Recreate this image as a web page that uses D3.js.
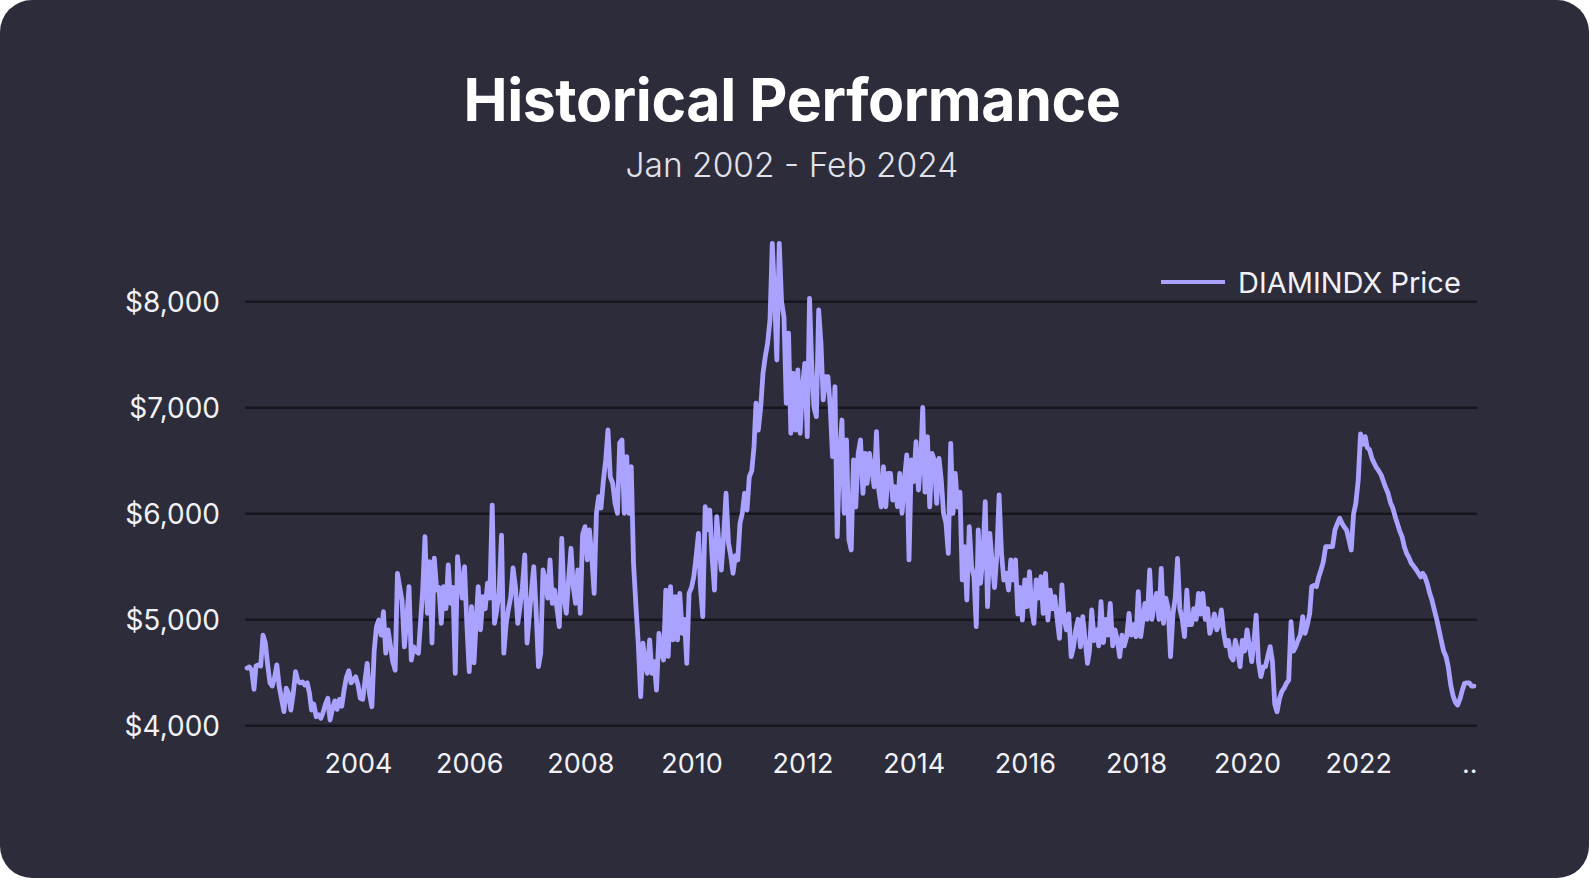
<!DOCTYPE html>
<html>
<head>
<meta charset="utf-8">
<script src="https://cdn.jsdelivr.net/npm/d3@7"></script>
<style>
  html, body { margin: 0; padding: 0; background: #ffffff; }
  svg { display: block; }
</style>
</head>
<body>
<div id="chart"></div>
<script>
/* DIAMINDX price: two readings a month (1st and 16th) */
var p2002 = [4540, 4550, 4520, 4340, 4560, 4570, 4560, 4850, 4780, 4580, 4400, 4370, 4450, 4570, 4364, 4250, 4130, 4350, 4300, 4144, 4300, 4506, 4420, 4400]
var p2003 = [4410, 4380, 4400, 4300, 4144, 4200, 4081, 4100, 4066, 4120, 4200, 4255, 4050, 4150, 4230, 4150, 4245, 4180, 4330, 4450, 4515, 4400, 4427, 4458]
var p2004 = [4380, 4255, 4245, 4427, 4585, 4300, 4175, 4700, 4930, 4993, 4850, 5072, 4680, 4900, 4750, 4600, 4520, 5434, 5300, 5180, 4740, 5000, 5308, 4616]
var p2005 = [4740, 4700, 4680, 5000, 5276, 5780, 5057, 5543, 4776, 5578, 5276, 5300, 4962, 5308, 5100, 5513, 5150, 5300, 4490, 5590, 5371, 5200, 5497, 4962]
var p2006 = [4506, 5119, 4590, 5000, 5308, 4900, 5213, 5100, 5340, 5200, 6078, 4962, 5088, 5250, 5795, 4680, 4962, 5100, 5213, 5484, 5300, 4962, 5119, 5300]
var p2007 = [5607, 4776, 5057, 5300, 5497, 5100, 4553, 4680, 5465, 5371, 5200, 5560, 5150, 5276, 5100, 4930, 5764, 5200, 5057, 5371, 5670, 5300, 5150, 5465]
var p2008 = [5057, 5800, 5874, 5560, 5843, 5600, 5245, 6000, 6157, 6050, 6314, 6503, 6786, 6345, 6283, 6100, 6000, 6663, 6692, 6000, 6534, 6000, 6440, 5528]
var p2009 = [5119, 4774, 4270, 4774, 4600, 4490, 4805, 4490, 4600, 4333, 4868, 4700, 4616, 5276, 4650, 5308, 4805, 5213, 4805, 5245, 4868, 5000, 4585, 5245]
var p2010 = [5300, 5402, 5600, 5811, 5300, 5025, 6062, 5843, 6031, 5600, 5276, 5968, 5700, 5465, 5800, 6189, 5720, 5600, 5434, 5600, 5560, 5906, 6000, 6189]
var p2011 = [6031, 6345, 6400, 6628, 7038, 6784, 7000, 7321, 7478, 7600, 7824, 8547, 8050, 7446, 8547, 8000, 7850, 7038, 7700, 6755, 7321, 6784, 7352, 6755]
var p2012 = [7200, 7415, 6723, 8028, 7415, 7000, 6912, 7918, 7604, 7070, 7290, 7290, 7007, 6534, 7195, 5780, 6566, 6880, 6000, 6692, 5750, 5654, 6503, 6060]
var p2013 = [6566, 6692, 6189, 6566, 6283, 6566, 6400, 6250, 6770, 6220, 6060, 6440, 6062, 6377, 6377, 6125, 6250, 6062, 6377, 6000, 6314, 6550, 5560, 6503]
var p2014 = [6300, 6676, 6220, 6500, 7000, 6200, 6723, 6060, 6566, 6503, 6094, 6519, 6314, 6000, 5906, 5622, 6660, 6000, 6377, 6060, 6200, 5371, 5686, 5182]
var p2015 = [5874, 5500, 5400, 4930, 5843, 5340, 5600, 6110, 5119, 5811, 5528, 5300, 5600, 6173, 5622, 5371, 5434, 5276, 5560, 5371, 5560, 5050, 5300, 4993]
var p2016 = [5371, 5119, 5450, 5088, 4962, 5371, 5200, 5402, 5057, 5434, 4993, 5276, 5100, 5214, 5000, 4820, 5324, 5000, 4900, 5050, 4647, 4740, 4900, 5000]
var p2017 = [4740, 5025, 4800, 4585, 4700, 5088, 4800, 4900, 4750, 5166, 4780, 5000, 4850, 5150, 4750, 4900, 4800, 4647, 4850, 4750, 4836, 5056, 4850, 4950]
var p2018 = [4836, 5261, 4836, 5000, 5150, 5000, 5465, 5000, 5150, 5244, 5000, 5481, 4962, 5200, 5100, 4647, 5050, 5200, 5575, 5100, 5000, 4836, 5276, 4950]
var p2019 = [4950, 5100, 5000, 5244, 5050, 5244, 5000, 5100, 4868, 4950, 5050, 4900, 4950, 5089, 4868, 4750, 4800, 4650, 4616, 4800, 4700, 4553, 4800, 4700]
var p2020 = [4900, 4750, 4600, 4800, 5040, 4600, 4459, 4550, 4553, 4650, 4742, 4600, 4200, 4128, 4250, 4317, 4350, 4396, 4427, 4977, 4700, 4742, 4800, 4850]
var p2021 = [5025, 4868, 4950, 5056, 5308, 5320, 5308, 5400, 5465, 5540, 5685, 5685, 5685, 5685, 5843, 5900, 5953, 5906, 5870, 5843, 5750, 5654, 5990, 6094]
var p2022 = [6314, 6750, 6650, 6723, 6620, 6600, 6520, 6472, 6430, 6400, 6360, 6300, 6240, 6189, 6100, 6050, 5968, 5900, 5830, 5780, 5680, 5620, 5580, 5528]
var p2023 = [5500, 5470, 5434, 5400, 5434, 5400, 5330, 5245, 5180, 5088, 5000, 4900, 4800, 4700, 4650, 4550, 4380, 4280, 4220, 4190, 4250, 4330, 4396, 4400]
var p2024 = [4400, 4370, 4370]

var years = [2002, 2003, 2004, 2005, 2006, 2007, 2008, 2009, 2010, 2011, 2012, 2013,
             2014, 2015, 2016, 2017, 2018, 2019, 2020, 2021, 2022, 2023, 2024]
var priceRows = [p2002, p2003, p2004, p2005, p2006, p2007, p2008, p2009, p2010, p2011, p2012, p2013,
                 p2014, p2015, p2016, p2017, p2018, p2019, p2020, p2021, p2022, p2023, p2024]

var yTicks = [4000, 5000, 6000, 7000, 8000]
var xTickYears = [2004, 2006, 2008, 2010, 2012, 2014, 2016, 2018, 2020, 2022, 2024]
var xTickLabels = ["2004", "2006", "2008", "2010", "2012", "2014", "2016", "2018", "2020", "2022", ".."]

var titleText = "Historical Performance"
var subtitleText = "Jan 2002 - Feb 2024"
var seriesName = "DIAMINDX Price"

/* colors + layout */
var colors = {
  page: "#ffffff",
  card: "#2d2c3a",
  grid: "#17161f",
  line: "#a9a2ff",
  text: "#f1f1f6",
  subText: "#e2e2ea"
}

var width = 1590
    height = 880
    plotLeft = 245
    plotRight = 1477
    fontFamily = "Inter, 'Noto Sans', sans-serif"

/* flatten the yearly rows into dated points */
var priceData = []
priceRows.forEach(function(row, i) {
  row.forEach(function(v, k) {
    priceData.push({
      date: new Date(years[i], Math.floor(k / 2), k % 2 ? 16 : 1),
      value: v
    })
  })
})

var x = d3.scaleTime()
    .domain([new Date(2002, 0, 1), new Date(2024, 1, 1)])
    .range([247, 1474])

var y = d3.scaleLinear()
    .domain([4000, 8000])
    .range([725.3, 301.3])

var svg = d3.select("#chart")
    .append("svg")
    .attr("width", width)
    .attr("height", height)

svg.append("rect")
    .attr("width", width)
    .attr("height", height)
    .attr("fill", colors.page)

svg.append("rect")
    .attr("width", 1589)
    .attr("height", 878)
    .attr("rx", 32)
    .attr("ry", 32)
    .attr("fill", colors.card)

/* horizontal grid */
var grid = svg.append("g")
    .attr("class", "grid")
    .attr("transform", "translate(" + plotLeft + ",0)")
    .call(d3.axisRight(y)
      .tickValues(yTicks)
      .tickSize(plotRight - plotLeft)
      .tickFormat(""))

grid.select(".domain").remove()
grid.selectAll("line")
    .attr("stroke", colors.grid)
    .attr("stroke-width", 2.4)

/* y labels */
var yAxis = svg.append("g")
    .attr("transform", "translate(" + plotLeft + ",0)")
    .call(d3.axisLeft(y)
      .tickValues(yTicks)
      .tickSize(0)
      .tickPadding(25)
      .tickFormat(function(d) { return "$" + d3.format(",")(d) }))

yAxis.select(".domain").remove()
yAxis.selectAll("text")
    .attr("dy", "0.38em")
    .attr("fill", colors.text)
    .style("font-family", fontFamily)
    .style("font-size", "28px")

/* x labels */
var xAxis = svg.append("g")
    .attr("transform", "translate(0," + y(4000) + ")")
    .call(d3.axisBottom(x)
      .tickValues(xTickYears.map(function(yr) { return new Date(yr, 0, 1) }))
      .tickSize(0)
      .tickPadding(29)
      .tickFormat(function(d, i) { return xTickLabels[i] }))

xAxis.select(".domain").remove()
xAxis.selectAll("text")
    .attr("fill", colors.text)
    .style("font-family", fontFamily)
    .style("font-size", "27px")

/* the price line */
var priceLine = d3.line()
    .x(function(d) { return x(d.date) })
    .y(function(d) { return y(d.value) })

svg.append("path")
    .datum(priceData)
    .attr("d", priceLine)
    .attr("fill", "none")
    .attr("stroke", colors.line)
    .attr("stroke-width", 4.8)
    .attr("stroke-linejoin", "round")
    .attr("stroke-linecap", "round")

/* title block */
svg.append("text")
    .attr("x", 792)
    .attr("y", 121)
    .attr("text-anchor", "middle")
    .attr("fill", "#ffffff")
    .style("font-family", fontFamily)
    .style("font-weight", 700)
    .style("font-size", "59px")
    .style("letter-spacing", "-0.4px")
    .text(titleText)

svg.append("text")
    .attr("x", 792)
    .attr("y", 177)
    .attr("text-anchor", "middle")
    .attr("fill", colors.subText)
    .style("font-family", fontFamily)
    .style("font-weight", 300)
    .style("font-size", "33.5px")
    .text(subtitleText)

/* legend */
var legend = svg.append("g").attr("class", "legend")

legend.append("line")
    .attr("x1", 1161)
    .attr("x2", 1225)
    .attr("y1", 282)
    .attr("y2", 282)
    .attr("stroke", colors.line)
    .attr("stroke-width", 4)

legend.append("text")
    .attr("x", 1238)
    .attr("y", 293)
    .attr("fill", colors.text)
    .style("font-family", fontFamily)
    .style("font-size", "29px")
    .text(seriesName)
</script>
</body>
</html>
